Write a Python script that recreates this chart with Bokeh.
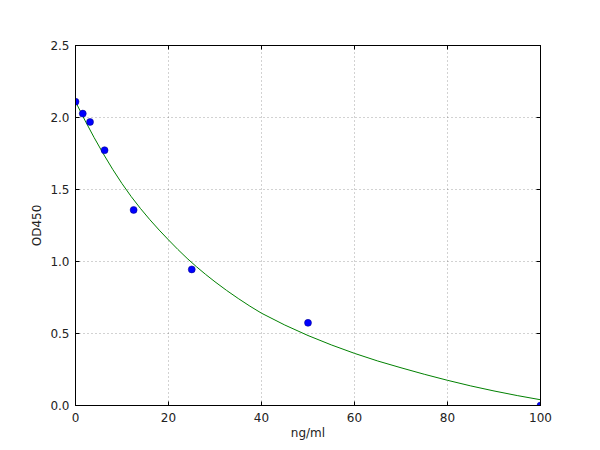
from bokeh.plotting import figure
from bokeh.models import (Range1d, FixedTicker, LinearAxis, NumeralTickFormatter,
                          CustomLabelingPolicy)
from bokeh.embed import file_html
from bokeh.resources import INLINE

# measured standards
conc = [0, 1.5625, 3.125, 6.25, 12.5, 25, 50, 100]
od = [2.11, 2.027, 1.969, 1.773, 1.358, 0.945, 0.574, 0.0]

# fitted curve
curve_x = [0, 2, 4, 6, 8, 10, 12, 14, 16, 18, 20, 22, 24, 26, 28, 30, 32.5, 35,
           37.5, 40, 45, 50, 55, 60, 65, 70, 75, 80, 85, 90, 95, 100]
curve_y = [2.11, 1.982, 1.861, 1.747, 1.640, 1.541, 1.450, 1.367, 1.290, 1.218,
           1.150, 1.084, 1.022, 0.964, 0.910, 0.859, 0.799, 0.743, 0.690, 0.641,
           0.559, 0.486, 0.421, 0.362, 0.309, 0.262, 0.217, 0.175, 0.136, 0.101,
           0.069, 0.040]

x_ticks = [0, 20, 40, 60, 80, 100]
y_ticks = [0.0, 0.5, 1.0, 1.5, 2.0, 2.5]

FONT = "DejaVu Sans"

p = figure(width=592, height=442, output_backend="svg", toolbar_location=None,
           x_range=Range1d(0, 100), y_range=Range1d(0, 2.5),
           min_border_left=75, min_border_right=52, min_border_top=45, min_border_bottom=37)
p.background_fill_color = "white"
p.border_fill_color = "white"
p.outline_line_color = "black"
p.outline_line_width = 1
p.outline_line_alpha = 1

for ax in p.xaxis + p.yaxis:
    ax.major_tick_in = 4
    ax.major_tick_out = 0
    ax.minor_tick_in = 0
    ax.minor_tick_out = 0
    ax.axis_line_color = "black"
    ax.major_tick_line_color = "black"
    ax.major_label_text_font = FONT
    ax.major_label_text_font_size = "12px"
    ax.major_label_text_color = "#222222"
    ax.axis_label_text_font = FONT
    ax.axis_label_text_font_size = "12px"
    ax.axis_label_text_font_style = "normal"
    ax.axis_label_text_color = "#222222"
    ax.major_label_standoff = 6

p.xaxis.ticker = FixedTicker(ticks=x_ticks)
p.yaxis.ticker = FixedTicker(ticks=y_ticks)
p.yaxis.formatter = NumeralTickFormatter(format="0.0")
p.xaxis.major_label_standoff = 7
p.xaxis.axis_label = "ng/ml"
p.yaxis.axis_label = "OD450"
p.xaxis.axis_label_standoff = 1
p.yaxis.axis_label_standoff = 3

# mirrored tick marks on top and right (labels hidden)
no_labels = "for (const i of Array.from(indices)) indices.unset(i); return indices"
top = LinearAxis(ticker=FixedTicker(ticks=x_ticks), major_tick_in=4, major_tick_out=0,
                 minor_tick_in=0, minor_tick_out=0, major_label_text_font_size="0px",
                 major_label_policy=CustomLabelingPolicy(code=no_labels),
                 axis_line_color="black")
right = LinearAxis(ticker=FixedTicker(ticks=y_ticks), major_tick_in=4, major_tick_out=0,
                   minor_tick_in=0, minor_tick_out=0, major_label_text_font_size="0px",
                   major_label_policy=CustomLabelingPolicy(code=no_labels),
                   axis_line_color="black")
p.add_layout(top, "above")
p.add_layout(right, "right")

p.xgrid.ticker = FixedTicker(ticks=x_ticks)
p.ygrid.ticker = FixedTicker(ticks=y_ticks)
for g in (p.xgrid, p.ygrid):
    g.grid_line_color = "black"
    g.grid_line_alpha = 0.6
    g.grid_line_width = 0.6
    g.grid_line_dash = "1 3"

p.line(curve_x, curve_y, line_color="#008000", line_width=1)
p.scatter(conc, od, size=7, fill_color="#0000ff", line_color="#000080", line_width=0.5)

open("out.html", "w").write(file_html(p, INLINE))
